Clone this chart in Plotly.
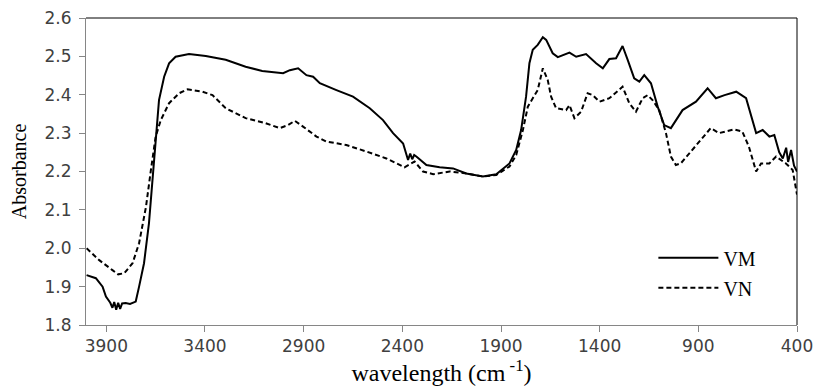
import plotly.graph_objects as go

vm_x = [4000, 3953, 3919, 3902, 3880, 3869, 3860, 3850, 3840, 3830, 3820, 3802, 3780, 3751, 3734, 3709,
        3684, 3667, 3650, 3633, 3607, 3582, 3549, 3481, 3396, 3295, 3194, 3110, 3004, 2970, 2928, 2886,
        2852, 2818, 2734, 2650, 2565, 2498, 2447, 2396, 2371, 2360, 2350, 2340, 2329, 2278, 2211, 2143,
        2076, 1992, 1924, 1857, 1823, 1798, 1773, 1756, 1739, 1714, 1688, 1671, 1638, 1612, 1553, 1519,
        1469, 1418, 1384, 1351, 1317, 1284, 1258, 1225, 1199, 1174, 1140, 1106, 1073, 1039, 980, 912,
        853, 811, 767, 708, 658, 607, 574, 540, 515, 490, 472, 455, 445, 430, 415, 405, 400]
vm_y = [1.930, 1.922, 1.900, 1.874, 1.858, 1.845, 1.860, 1.840, 1.858, 1.842, 1.856, 1.857, 1.855, 1.861, 1.900, 1.961,
        2.065, 2.178, 2.282, 2.386, 2.447, 2.482, 2.499, 2.506, 2.501, 2.491, 2.473, 2.462, 2.456, 2.464, 2.469, 2.451,
        2.447, 2.430, 2.412, 2.395, 2.365, 2.334, 2.300, 2.273, 2.230, 2.247, 2.232, 2.243, 2.239, 2.217, 2.211, 2.208,
        2.195, 2.187, 2.193, 2.221, 2.256, 2.308, 2.395, 2.482, 2.517, 2.530, 2.550, 2.543, 2.508, 2.498, 2.510, 2.499,
        2.506, 2.482, 2.469, 2.493, 2.495, 2.527, 2.491, 2.443, 2.434, 2.451, 2.430, 2.369, 2.321, 2.313, 2.360, 2.382,
        2.417, 2.391, 2.399, 2.408, 2.391, 2.300, 2.308, 2.291, 2.295, 2.250, 2.234, 2.262, 2.225, 2.256, 2.215, 2.204, 2.200]

vn_x = [4000, 3936, 3869, 3840, 3809, 3767, 3734, 3699, 3674, 3650, 3624, 3582, 3531, 3489, 3413, 3362,
        3295, 3194, 3093, 3021, 2979, 2945, 2903, 2835, 2785, 2684, 2582, 2481, 2389, 2338, 2295, 2244,
        2160, 2076, 1992, 1924, 1857, 1823, 1789, 1764, 1739, 1714, 1688, 1663, 1646, 1621, 1570, 1553,
        1528, 1494, 1461, 1435, 1401, 1351, 1284, 1250, 1216, 1182, 1157, 1132, 1098, 1064, 1039, 1014,
        989, 930, 879, 837, 795, 719, 677, 644, 607, 582, 540, 506, 456, 422, 400]
vn_y = [2.000, 1.969, 1.943, 1.932, 1.935, 1.961, 2.013, 2.108, 2.204, 2.291, 2.334, 2.378, 2.404, 2.414, 2.408, 2.399,
        2.365, 2.339, 2.326, 2.313, 2.321, 2.332, 2.317, 2.291, 2.278, 2.269, 2.252, 2.234, 2.211, 2.226, 2.200, 2.193,
        2.200, 2.195, 2.187, 2.191, 2.213, 2.243, 2.308, 2.369, 2.391, 2.412, 2.469, 2.438, 2.395, 2.365, 2.360, 2.373,
        2.339, 2.356, 2.404, 2.399, 2.382, 2.391, 2.421, 2.378, 2.356, 2.391, 2.399, 2.386, 2.360, 2.300, 2.239, 2.217,
        2.221, 2.256, 2.287, 2.313, 2.300, 2.310, 2.304, 2.265, 2.200, 2.221, 2.221, 2.239, 2.221, 2.204, 2.140]

x_ticks = [3900, 3400, 2900, 2400, 1900, 1400, 900, 400]
y_ticks = [1.8, 1.9, 2.0, 2.1, 2.2, 2.3, 2.4, 2.5, 2.6]
y_labels = ["1.8", "1.9", "2.0", "2.1", "2.2", "2.3", "2.4", "2.5", "2.6"]

fig = go.Figure()
fig.add_trace(go.Scatter(x=vm_x, y=vm_y, mode="lines", name="VM", legendgroup="a",
                         line=dict(color="black", width=2)))
fig.add_trace(go.Scatter(x=vn_x, y=vn_y, mode="lines", name="VN", legendgroup="b",
                         line=dict(color="black", width=2, dash="5px,3px")))

tick_font = dict(family="DejaVu Sans", size=17, color="#404040")
fig.update_layout(
    width=815, height=392,
    margin=dict(l=86, r=18, t=18, b=67),
    paper_bgcolor="white", plot_bgcolor="white",
    showlegend=True,
    legend=dict(x=0.798, y=0.17, xanchor="left", yanchor="middle",
                font=dict(family="Liberation Serif", size=20, color="black"),
                bgcolor="rgba(0,0,0,0)", itemwidth=60, tracegroupgap=1,
                traceorder="grouped"),
    xaxis=dict(range=[4003, 400], tickvals=x_ticks, ticks="outside", ticklen=6,
               tickcolor="#868686", showline=True, linecolor="#868686", linewidth=1,
               showgrid=False, zeroline=False, tickfont=tick_font, automargin=False,
               title=dict(text="wavelength (cm<sup> -1</sup>)",
                          font=dict(family="Liberation Serif", size=24, color="black"),
                          standoff=8)),
    yaxis=dict(range=[1.8, 2.6], tickvals=y_ticks, ticktext=y_labels, ticks="outside", ticklen=6,
               tickcolor="#868686", showline=True, linecolor="#868686", linewidth=1,
               showgrid=False, zeroline=False, tickfont=tick_font, ticklabelstandoff=4,
               automargin=False,
               title=dict(text="Absorbance",
                          font=dict(family="Liberation Serif", size=20, color="black"),
                          standoff=12)),
    shapes=[
        dict(type="line", xref="paper", yref="paper", x0=0, x1=1, y0=1, y1=1,
             line=dict(color="black", width=1)),
        dict(type="line", xref="paper", yref="paper", x0=1, x1=1, y0=0, y1=1,
             line=dict(color="black", width=1)),
    ],
)

fig.write_html("out.html")
